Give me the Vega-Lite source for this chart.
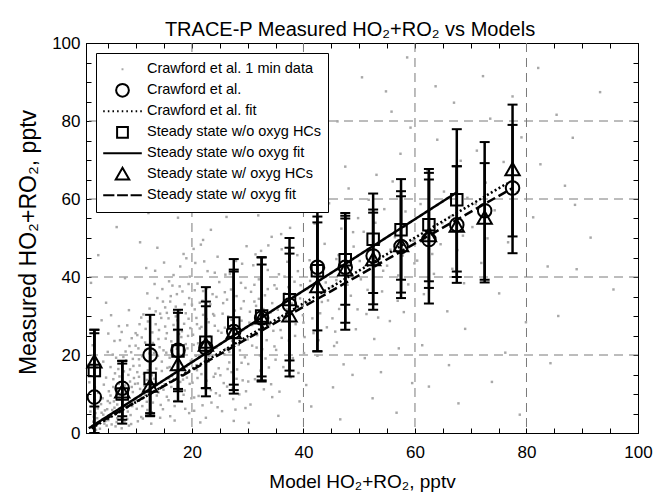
{
  "$schema": "https://vega.github.io/schema/vega-lite/v6.json",
  "width": 552,
  "height": 390,
  "autosize": {"type": "none"},
  "padding": {"left": 86, "top": 43, "right": 16, "bottom": 61},
  "title": {"text": "TRACE-P Measured HO₂+RO₂ vs Models", "fontSize": 20, "font": "Liberation Sans", "fontWeight": "normal", "color": "black", "anchor": "middle", "offset": -6, "dx": -12},
  "config": {
    "view": {"stroke": "black", "strokeWidth": 1},
    "font": "Liberation Sans",
    "axis": {"labelFont": "Liberation Sans", "titleFont": "Liberation Sans", "labelColor": "black", "titleColor": "black", "domainColor": "black", "tickColor": "black", "titleFontWeight": "normal", "labelFontSize": 17, "labelFlush": false, "labelOverlap": false, "grid": false},
    "legend": {"orient": "top-left", "offset": 10, "strokeColor": "black", "fillColor": "white", "padding": 6, "symbolSize": 1490, "symbolStrokeWidth": 2, "clipHeight": 20.6, "rowPadding": 0, "labelFontSize": 14.5, "labelFont": "Liberation Sans", "labelColor": "black", "labelOffset": 4, "labelLimit": 400}
  },
  "datasets": {
    "dots": [
      {"x":2.1,"y":1.5},{"x":2.4,"y":4.2},{"x":2.8,"y":0.8},{"x":3.1,"y":6.3},{"x":3.3,"y":2.7},{"x":3.6,"y":9.1},{"x":3.9,"y":3.5},{"x":4.2,"y":12.4},{"x":4.4,"y":5.8},{"x":4.7,"y":1.9},{"x":4.9,"y":8.2},{"x":2.6,"y":11.7},{"x":3.4,"y":14.6},{"x":4.1,"y":18.3},{"x":2.2,"y":22.5},{"x":3.7,"y":7.4},{"x":4.5,"y":3.1},{"x":1.8,"y":5.5},{"x":1.6,"y":13},{"x":2.9,"y":16.8},
      {"x":5.2,"y":4.4},{"x":5.4,"y":9.6},{"x":5.6,"y":2.2},{"x":5.9,"y":13.8},{"x":6.1,"y":6.5},{"x":6.3,"y":11.2},{"x":6.6,"y":3.8},{"x":6.8,"y":16.4},{"x":7.0,"y":8.7},{"x":7.2,"y":5.3},{"x":7.5,"y":12.9},{"x":7.7,"y":19.5},{"x":7.9,"y":2.9},{"x":8.1,"y":10.4},{"x":8.3,"y":7.1},{"x":8.6,"y":14.9},{"x":8.8,"y":22.3},{"x":9.0,"y":4.6},{"x":9.2,"y":11.8},{"x":9.5,"y":17.2},{"x":9.7,"y":8.3},{"x":9.9,"y":25.6},{"x":5.8,"y":20.1},{"x":6.9,"y":27.4},{"x":7.4,"y":1.2},{"x":8.4,"y":3.6},{"x":9.3,"y":6.9},{"x":6.2,"y":15.3},{"x":7.1,"y":23.8},{"x":8.9,"y":13.2},{"x":5.3,"y":7.7},{"x":6.7,"y":9.9},{"x":7.8,"y":15.8},{"x":8.2,"y":18.6},{"x":9.6,"y":14.1},{"x":9.1,"y":20.7},{"x":5.5,"y":30.2},{"x":8.7,"y":31.5},{"x":6.4,"y":5.1},{"x":7.6,"y":6.2},
      {"x":10.1,"y":6.2},{"x":10.3,"y":12.7},{"x":10.5,"y":18.9},{"x":10.8,"y":9.1},{"x":11.0,"y":24.5},{"x":11.2,"y":3.7},{"x":11.4,"y":15.2},{"x":11.7,"y":21.3},{"x":11.9,"y":8.0},{"x":12.1,"y":28.6},{"x":12.3,"y":11.4},{"x":12.6,"y":17.7},{"x":12.8,"y":5.3},{"x":13.0,"y":23.1},{"x":13.2,"y":13.9},{"x":13.5,"y":31.2},{"x":13.7,"y":9.6},{"x":13.9,"y":19.8},{"x":14.1,"y":26.4},{"x":14.4,"y":7.2},{"x":14.6,"y":15.9},{"x":14.8,"y":33.7},{"x":10.6,"y":27.9},{"x":11.3,"y":30.4},{"x":12.0,"y":35.8},{"x":12.7,"y":2.4},{"x":13.3,"y":38.2},{"x":14.2,"y":22.0},{"x":14.9,"y":11.1},{"x":10.2,"y":15.6},{"x":11.5,"y":12.1},{"x":12.4,"y":20.4},{"x":13.6,"y":16.5},{"x":14.5,"y":29.5},{"x":10.9,"y":4.1},{"x":12.9,"y":25.8},{"x":11.8,"y":42.3},{"x":13.8,"y":47.5},{"x":14.3,"y":3.9},{"x":10.4,"y":21.7},
      {"x":15.1,"y":12.5},{"x":15.3,"y":24.2},{"x":15.5,"y":30.8},{"x":15.8,"y":8.4},{"x":16.0,"y":19.3},{"x":16.2,"y":35.1},{"x":16.4,"y":14.6},{"x":16.7,"y":27.7},{"x":16.9,"y":6.9},{"x":17.1,"y":32.4},{"x":17.3,"y":21.6},{"x":17.6,"y":11.3},{"x":17.8,"y":37.6},{"x":18.0,"y":17.9},{"x":18.2,"y":26.1},{"x":18.5,"y":9.8},{"x":18.7,"y":33.0},{"x":18.9,"y":22.8},{"x":19.1,"y":14.2},{"x":19.4,"y":29.3},{"x":19.6,"y":40.1},{"x":19.8,"y":18.5},{"x":15.6,"y":16.7},{"x":16.6,"y":22.1},{"x":17.4,"y":28.9},{"x":18.4,"y":13.7},{"x":19.3,"y":24.9},{"x":15.9,"y":38.9},{"x":17.9,"y":42.7},{"x":16.1,"y":4.3},{"x":18.8,"y":6.2},{"x":19.9,"y":8.9},{"x":15.4,"y":20.6},{"x":17.0,"y":16.1},{"x":18.6,"y":20.3},{"x":19.5,"y":34.6},{"x":16.8,"y":31.1},{"x":15.2,"y":27.3},{"x":17.7,"y":25.4},{"x":19.0,"y":44.8},
      {"x":20.1,"y":12.9},{"x":20.3,"y":22.6},{"x":20.5,"y":31.7},{"x":20.8,"y":17.4},{"x":21.0,"y":38.3},{"x":21.2,"y":9.5},{"x":21.4,"y":26.8},{"x":21.7,"y":15.1},{"x":21.9,"y":33.9},{"x":22.1,"y":20.7},{"x":22.3,"y":11.6},{"x":22.6,"y":29.2},{"x":22.8,"y":41.5},{"x":23.0,"y":18.3},{"x":23.2,"y":24.8},{"x":23.5,"y":7.8},{"x":23.7,"y":35.6},{"x":23.9,"y":14.4},{"x":24.1,"y":27.5},{"x":24.4,"y":21.9},{"x":24.6,"y":45.2},{"x":24.8,"y":16.6},{"x":20.4,"y":5.7},{"x":21.6,"y":48.3},{"x":22.5,"y":3.9},{"x":23.4,"y":52.1},{"x":24.3,"y":10.2},{"x":20.9,"y":27.9},{"x":22.0,"y":36.4},{"x":23.8,"y":30.5},{"x":24.9,"y":38.7},{"x":21.3,"y":19.6},{"x":22.9,"y":23.3},{"x":20.6,"y":43.6},
      {"x":25.1,"y":14.8},{"x":25.3,"y":25.7},{"x":25.6,"y":33.3},{"x":25.8,"y":20.2},{"x":26.0,"y":40.6},{"x":26.3,"y":11.9},{"x":26.5,"y":29.9},{"x":26.7,"y":18.1},{"x":27.0,"y":36.8},{"x":27.2,"y":23.6},{"x":27.4,"y":8.7},{"x":27.7,"y":31.4},{"x":27.9,"y":44.1},{"x":28.1,"y":16.3},{"x":28.4,"y":26.9},{"x":28.6,"y":21.2},{"x":28.8,"y":38.5},{"x":29.1,"y":13.5},{"x":29.3,"y":33.8},{"x":29.5,"y":19.4},{"x":29.8,"y":47.9},{"x":25.4,"y":5.6},{"x":26.2,"y":55.4},{"x":27.5,"y":3.1},{"x":28.3,"y":58.7},{"x":29.6,"y":6.4},{"x":26.9,"y":24.5},{"x":28.9,"y":28.8},{"x":25.9,"y":36.1},{"x":27.1,"y":15.6},
      {"x":30.1,"y":17.7},{"x":30.3,"y":28.3},{"x":30.6,"y":36.2},{"x":30.8,"y":22.4},{"x":31.0,"y":43.0},{"x":31.3,"y":13.8},{"x":31.5,"y":32.6},{"x":31.7,"y":25.1},{"x":32.0,"y":39.4},{"x":32.2,"y":19.9},{"x":32.4,"y":46.7},{"x":32.7,"y":29.7},{"x":32.9,"y":11.2},{"x":33.1,"y":35.3},{"x":33.4,"y":23.8},{"x":33.6,"y":41.8},{"x":33.8,"y":16.8},{"x":34.1,"y":30.9},{"x":34.3,"y":50.3},{"x":34.6,"y":26.2},{"x":34.8,"y":37.9},{"x":30.5,"y":7.3},{"x":31.9,"y":55.8},{"x":33.3,"y":62.4},{"x":34.4,"y":9.2},{"x":31.2,"y":33.7},{"x":32.6,"y":21.5},{"x":33.9,"y":27.6},
      {"x":35.1,"y":21.3},{"x":35.4,"y":31.6},{"x":35.6,"y":40.7},{"x":35.9,"y":26.4},{"x":36.1,"y":47.1},{"x":36.4,"y":16.9},{"x":36.6,"y":35.8},{"x":36.9,"y":29.1},{"x":37.1,"y":43.9},{"x":37.4,"y":23.7},{"x":37.6,"y":52.6},{"x":37.9,"y":33.2},{"x":38.1,"y":19.2},{"x":38.4,"y":38.8},{"x":38.6,"y":27.9},{"x":38.9,"y":45.6},{"x":39.1,"y":15.4},{"x":39.4,"y":34.5},{"x":39.6,"y":57.3},{"x":39.9,"y":30.2},{"x":35.7,"y":10.6},{"x":36.8,"y":63.5},{"x":38.2,"y":66.9},{"x":39.3,"y":8.1},{"x":37.3,"y":37.4},
      {"x":40.2,"y":24.6},{"x":40.7,"y":36.9},{"x":41.1,"y":44.3},{"x":41.6,"y":29.4},{"x":42.0,"y":53.7},{"x":42.5,"y":19.8},{"x":42.9,"y":40.2},{"x":43.3,"y":33.6},{"x":43.8,"y":48.5},{"x":44.2,"y":27.1},{"x":44.6,"y":58.9},{"x":45.1,"y":37.5},{"x":45.5,"y":22.3},{"x":45.9,"y":44.6},{"x":46.4,"y":31.8},{"x":46.8,"y":52.4},{"x":47.2,"y":17.6},{"x":47.7,"y":41.1},{"x":48.1,"y":62.7},{"x":48.5,"y":35.2},{"x":49.0,"y":47.8},{"x":49.4,"y":26.6},{"x":49.8,"y":55.1},{"x":40.5,"y":12.3},{"x":41.9,"y":70.4},{"x":43.6,"y":74.1},{"x":45.3,"y":11.7},{"x":47.5,"y":68.3},{"x":48.8,"y":14.9},{"x":44.0,"y":38.6},
      {"x":50.3,"y":39.4},{"x":50.8,"y":51.6},{"x":51.3,"y":30.5},{"x":51.7,"y":59.8},{"x":52.2,"y":44.8},{"x":52.7,"y":24.1},{"x":53.1,"y":66.2},{"x":53.6,"y":48.7},{"x":54.1,"y":36.3},{"x":54.5,"y":57.4},{"x":55.0,"y":42.9},{"x":55.5,"y":28.7},{"x":56.0,"y":64.5},{"x":56.4,"y":50.2},{"x":56.9,"y":33.9},{"x":57.4,"y":71.6},{"x":57.8,"y":45.5},{"x":58.3,"y":56.8},{"x":58.8,"y":38.1},{"x":59.2,"y":78.3},{"x":59.7,"y":49.3},{"x":51.0,"y":19.2},{"x":53.9,"y":15.6},{"x":55.8,"y":82.4},{"x":57.1,"y":21.7},{"x":59.5,"y":12.8},
      {"x":60.4,"y":44.2},{"x":61.0,"y":58.7},{"x":61.6,"y":35.6},{"x":62.2,"y":67.3},{"x":62.8,"y":52.1},{"x":63.4,"y":40.8},{"x":64.0,"y":75.2},{"x":64.6,"y":48.4},{"x":65.2,"y":61.9},{"x":65.8,"y":31.2},{"x":66.4,"y":55.6},{"x":67.0,"y":84.7},{"x":67.6,"y":46.9},{"x":68.2,"y":69.8},{"x":68.8,"y":38.4},{"x":69.4,"y":60.3},{"x":61.3,"y":22.5},{"x":63.7,"y":88.9},{"x":66.1,"y":17.4},{"x":69.0,"y":26.7},
      {"x":70.3,"y":52.8},{"x":71.1,"y":72.4},{"x":71.9,"y":43.6},{"x":72.7,"y":64.2},{"x":73.5,"y":80.6},{"x":74.3,"y":57.1},{"x":75.1,"y":35.8},{"x":75.9,"y":69.5},{"x":76.7,"y":48.9},{"x":77.5,"y":86.3},{"x":78.3,"y":61.7},{"x":79.1,"y":75.8},{"x":79.9,"y":28.4},{"x":72.2,"y":91.5},{"x":76.2,"y":20.6},
      {"x":81.2,"y":55.3},{"x":82.5,"y":68.9},{"x":83.8,"y":42.7},{"x":85.4,"y":81.6},{"x":85.7,"y":30.0},{"x":86.9,"y":63.4},{"x":88.3,"y":75.7},{"x":88.7,"y":58.5},{"x":89.0,"y":42.0},{"x":91.5,"y":50.1},{"x":93.2,"y":87.4},{"x":95.6,"y":36.8},{"x":82.1,"y":93.6},{"x":84.3,"y":17.9},
      {"x":1.9,"y":38.5},{"x":3.2,"y":45.6},{"x":4.6,"y":33.4},{"x":6.5,"y":52.8},{"x":8.0,"y":39.7},{"x":9.4,"y":61.2},{"x":10.7,"y":48.9},{"x":12.2,"y":56.4},{"x":13.1,"y":71.3},{"x":15.7,"y":63.8},{"x":17.5,"y":55.2},{"x":19.2,"y":77.4},{"x":21.8,"y":68.7},{"x":23.6,"y":84.1},{"x":26.6,"y":72.5},{"x":28.7,"y":65.9},{"x":30.9,"y":81.3},{"x":33.0,"y":92.8},{"x":35.3,"y":76.6},{"x":37.8,"y":88.2},{"x":40.9,"y":83.5},{"x":43.1,"y":95.4},{"x":46.1,"y":79.9},{"x":50.5,"y":91.2},{"x":54.8,"y":87.6},{"x":58.6,"y":96.3},
      {"x":30.2,"y":2.6},{"x":35.5,"y":4.4},{"x":41.4,"y":6.8},{"x":46.6,"y":3.5},{"x":52.4,"y":8.9},{"x":56.7,"y":5.2},{"x":62.5,"y":11.9},{"x":67.8,"y":7.6},{"x":73.8,"y":13.1},{"x":78.8,"y":4.7},
      {"x":2.3,"y":2.9},{"x":2.7,"y":5.1},{"x":3.0,"y":3.8},{"x":3.5,"y":1.1},{"x":3.8,"y":5.2},{"x":4.0,"y":8.9},{"x":4.3,"y":2.4},{"x":4.8,"y":6.1},{"x":5.0,"y":3.3},{"x":5.1,"y":10.7},{"x":5.7,"y":5.9},{"x":6.0,"y":8.1},{"x":6.5,"y":2.8},{"x":6.6,"y":7.3},{"x":7.3,"y":3.9},{"x":7.3,"y":10.1},{"x":7.9,"y":6.8},{"x":8.0,"y":12.2},{"x":8.5,"y":5.5},{"x":8.5,"y":9.3},{"x":9.1,"y":2.3},{"x":9.4,"y":10.5},{"x":9.8,"y":12.6},{"x":10.0,"y":8.7},{"x":10.3,"y":3.0},{"x":10.7,"y":11.3},{"x":11.1,"y":6.9},{"x":11.6,"y":9.8},{"x":11.9,"y":13.6},{"x":12.2,"y":4.6},{"x":12.5,"y":8.4},{"x":12.8,"y":14.8},{"x":3.2,"y":10.3},{"x":4.6,"y":14.2},{"x":5.4,"y":16.9},{"x":6.4,"y":19.3},{"x":7.0,"y":14.5},{"x":7.6,"y":17.9},{"x":8.1,"y":20.9},{"x":8.9,"y":16.3},{"x":9.4,"y":19.0},{"x":9.9,"y":22.4},{"x":10.6,"y":17.3},{"x":11.1,"y":19.7},{"x":11.6,"y":23.2},{"x":12.1,"y":16.1},{"x":2.6,"y":8.4},{"x":5.9,"y":11.8},{"x":6.9,"y":12.6},{"x":9.0,"y":7.6},{"x":10.5,"y":14.4},{"x":11.3,"y":10.9},{"x":4.1,"y":4.7},{"x":6.3,"y":1.7},{"x":7.7,"y":4.3},{"x":8.7,"y":1.9},{"x":3.5,"y":17.4},{"x":4.9,"y":20.8},{"x":6.1,"y":23.6},{"x":7.4,"y":25.9},{"x":8.4,"y":27.6},{"x":9.2,"y":24.3},{"x":10.2,"y":25.1},{"x":10.9,"y":29.6},{"x":11.7,"y":26.7},{"x":12.4,"y":31.9},{"x":5.0,"y":25.5},{"x":3.8,"y":28.9},
      {"x":13.2,"y":20.5},{"x":13.5,"y":27.9},{"x":13.8,"y":34.6},{"x":14.0,"y":24.1},{"x":14.3,"y":30.6},{"x":14.7,"y":36.9},{"x":14.9,"y":21.2},{"x":15.2,"y":32.2},{"x":15.5,"y":25.6},{"x":15.8,"y":29.4},{"x":16.1,"y":33.7},{"x":16.3,"y":23.5},{"x":16.5,"y":37.8},{"x":16.8,"y":26.4},{"x":17.1,"y":29.9},{"x":17.3,"y":35.6},{"x":17.6,"y":20.1},{"x":17.8,"y":31.3},{"x":18.1,"y":24.6},{"x":18.3,"y":36.3},{"x":18.6,"y":28.0},{"x":18.9,"y":30.7},{"x":19.2,"y":21.7},{"x":19.4,"y":38.2},{"x":19.7,"y":26.9},{"x":20.0,"y":32.9},{"x":20.2,"y":25.2},{"x":20.5,"y":36.6},{"x":20.8,"y":29.5},{"x":21.1,"y":23.0},{"x":21.4,"y":33.4},{"x":21.7,"y":27.2},{"x":22.0,"y":30.3},{"x":22.3,"y":24.1},{"x":22.7,"y":37.1},{"x":23.0,"y":28.4},{"x":23.3,"y":33.0},{"x":23.6,"y":22.0},{"x":24.0,"y":30.1},{"x":24.4,"y":34.9},{"x":24.7,"y":26.2},{"x":13.4,"y":41.6},{"x":15.0,"y":43.7},{"x":16.7,"y":40.5},{"x":18.5,"y":45.9},{"x":20.3,"y":47.2},{"x":22.2,"y":44.0},{"x":14.6,"y":18.3},{"x":16.0,"y":16.9},{"x":17.5,"y":15.3},{"x":19.0,"y":17.0},{"x":20.7,"y":19.8},{"x":22.5,"y":17.8},
      {"x":12.0,"y":5.9},{"x":13.0,"y":7.8},{"x":14.0,"y":10.4},{"x":14.8,"y":6.1},{"x":15.5,"y":9.3},{"x":16.3,"y":11.8},{"x":17.0,"y":8.2},{"x":17.9,"y":13.1},{"x":18.7,"y":10.9},{"x":19.6,"y":12.6},{"x":20.4,"y":9.1},{"x":21.0,"y":14.1},{"x":21.9,"y":7.1},{"x":22.6,"y":13.4},{"x":23.4,"y":11.0},{"x":24.2,"y":15.2},{"x":25.0,"y":9.6},{"x":25.7,"y":12.8},{"x":26.4,"y":16.4},{"x":27.3,"y":11.4},{"x":28.0,"y":13.9},{"x":28.9,"y":18.0},{"x":29.7,"y":10.7},{"x":13.6,"y":12.9},{"x":15.9,"y":14.0},{"x":18.2,"y":8.0},{"x":20.9,"y":16.1},{"x":23.1,"y":19.7},{"x":26.0,"y":21.5},{"x":28.5,"y":9.9},{"x":16.9,"y":3.2},{"x":19.5,"y":5.1},{"x":24.6,"y":6.6},{"x":21.5,"y":2.7},{"x":27.8,"y":6.0},
      {"x":25.2,"y":22.9},{"x":25.5,"y":30.6},{"x":25.9,"y":27.0},{"x":26.3,"y":34.2},{"x":26.7,"y":20.8},{"x":27.1,"y":29.0},{"x":27.6,"y":25.3},{"x":28.0,"y":35.1},{"x":28.4,"y":22.6},{"x":28.8,"y":31.9},{"x":29.2,"y":26.4},{"x":29.6,"y":37.2},{"x":30.0,"y":24.0},{"x":30.4,"y":31.1},{"x":30.8,"y":27.7},{"x":31.2,"y":38.0},{"x":31.6,"y":21.9},{"x":32.0,"y":34.4},{"x":32.4,"y":26.0},{"x":32.8,"y":31.8},{"x":33.2,"y":19.1},{"x":33.6,"y":36.9},{"x":34.0,"y":28.5},{"x":34.4,"y":33.3},{"x":34.8,"y":22.2},{"x":35.2,"y":37.0},{"x":35.7,"y":29.6},{"x":36.1,"y":24.4},{"x":36.6,"y":40.1},{"x":37.0,"y":31.7},{"x":37.5,"y":27.0},{"x":38.0,"y":35.5},{"x":38.5,"y":24.9},{"x":39.0,"y":41.5},{"x":39.5,"y":37.9},{"x":40.0,"y":28.3},{"x":40.6,"y":33.4},{"x":41.2,"y":39.0},{"x":41.8,"y":25.6},{"x":42.4,"y":35.9},{"x":43.0,"y":30.7},{"x":43.7,"y":42.3},{"x":44.4,"y":34.0},{"x":45.2,"y":29.4},{"x":45.9,"y":39.2},{"x":26.8,"y":40.8},{"x":29.0,"y":43.4},{"x":31.4,"y":45.8},{"x":33.7,"y":48.1},{"x":36.0,"y":51.0},{"x":24.1,"y":41.1},{"x":22.0,"y":49.5},{"x":30.1,"y":13.2},{"x":32.3,"y":16.0},{"x":35.0,"y":18.8},{"x":37.7,"y":14.3},{"x":40.1,"y":20.5},{"x":42.7,"y":23.8},{"x":45.7,"y":26.0},{"x":34.2,"y":12.5},
      {"x":46.3,"y":45.6},{"x":47.9,"y":38.0},{"x":48.9,"y":51.5},{"x":50.1,"y":44.1},{"x":51.5,"y":36.7},{"x":52.9,"y":53.9},{"x":54.3,"y":41.6},{"x":55.6,"y":47.0},{"x":57.0,"y":40.4},{"x":58.1,"y":52.9},{"x":59.9,"y":43.5},{"x":61.8,"y":49.7},{"x":63.1,"y":45.9},{"x":64.9,"y":53.8},{"x":66.7,"y":42.1},{"x":68.6,"y":50.6},{"x":70.9,"y":58.7},{"x":73.0,"y":49.9},{"x":46.0,"y":23.2},{"x":49.7,"y":31.7},{"x":53.4,"y":29.6},{"x":58.0,"y":31.0}
    ],
    "pts": [
      {"series":"Crawford et al.","x":2.5,"y":9.2,"lo":0,"hi":25.6},
      {"series":"Crawford et al.","x":7.5,"y":11.5,"lo":2.4,"hi":18.5},
      {"series":"Crawford et al.","x":12.5,"y":20.0,"lo":4.3,"hi":30.3},
      {"series":"Crawford et al.","x":17.5,"y":21.2,"lo":8.1,"hi":31.6},
      {"series":"Crawford et al.","x":22.5,"y":21.8,"lo":9.4,"hi":37.4},
      {"series":"Crawford et al.","x":27.5,"y":26.0,"lo":10.1,"hi":44.6},
      {"series":"Crawford et al.","x":32.5,"y":29.5,"lo":13.2,"hi":45.1},
      {"series":"Crawford et al.","x":37.5,"y":32.8,"lo":14.5,"hi":50.0},
      {"series":"Crawford et al.","x":42.5,"y":42.5,"lo":20.9,"hi":57.1},
      {"series":"Crawford et al.","x":47.5,"y":42.5,"lo":26.5,"hi":56.4},
      {"series":"Crawford et al.","x":52.5,"y":45.4,"lo":31.6,"hi":61.4},
      {"series":"Crawford et al.","x":57.5,"y":47.8,"lo":34.6,"hi":65.1},
      {"series":"Crawford et al.","x":62.5,"y":49.6,"lo":33.2,"hi":67.7},
      {"series":"Crawford et al.","x":67.5,"y":53.4,"lo":38.5,"hi":77.9},
      {"series":"Crawford et al.","x":72.5,"y":57.0,"lo":39.3,"hi":74.6},
      {"series":"Crawford et al.","x":77.5,"y":62.8,"lo":46.1,"hi":79.0},
      {"series":"Steady state w/o oxyg HCs","x":2.5,"y":16.0,"lo":6.8,"hi":26.5},
      {"series":"Steady state w/o oxyg HCs","x":7.5,"y":10.0,"lo":4.3,"hi":17.8},
      {"series":"Steady state w/o oxyg HCs","x":12.5,"y":14.0,"lo":5.1,"hi":22.6},
      {"series":"Steady state w/o oxyg HCs","x":17.5,"y":21.0,"lo":10.7,"hi":30.8},
      {"series":"Steady state w/o oxyg HCs","x":22.5,"y":23.3,"lo":11.5,"hi":33.7},
      {"series":"Steady state w/o oxyg HCs","x":27.5,"y":28.2,"lo":12.4,"hi":41.9},
      {"series":"Steady state w/o oxyg HCs","x":32.5,"y":30.0,"lo":14.5,"hi":43.2},
      {"series":"Steady state w/o oxyg HCs","x":37.5,"y":34.2,"lo":18.6,"hi":47.5},
      {"series":"Steady state w/o oxyg HCs","x":42.5,"y":41.6,"lo":26.3,"hi":55.5},
      {"series":"Steady state w/o oxyg HCs","x":47.5,"y":44.4,"lo":32.9,"hi":55.7},
      {"series":"Steady state w/o oxyg HCs","x":52.5,"y":49.7,"lo":35.9,"hi":57.3},
      {"series":"Steady state w/o oxyg HCs","x":57.5,"y":52.1,"lo":39.3,"hi":60.7},
      {"series":"Steady state w/o oxyg HCs","x":62.5,"y":53.4,"lo":38.9,"hi":66.7},
      {"series":"Steady state w/o oxyg HCs","x":67.5,"y":59.8,"lo":41.4,"hi":68.4},
      {"series":"Steady state w/ oxyg HCs","x":2.5,"y":18.2,"lo":0,"hi":26.5},
      {"series":"Steady state w/ oxyg HCs","x":7.5,"y":10.5,"lo":3.4,"hi":18.5},
      {"series":"Steady state w/ oxyg HCs","x":12.5,"y":12.0,"lo":4.5,"hi":22.6},
      {"series":"Steady state w/ oxyg HCs","x":17.5,"y":17.5,"lo":11.3,"hi":26.5},
      {"series":"Steady state w/ oxyg HCs","x":22.5,"y":22.5,"lo":11.5,"hi":32.5},
      {"series":"Steady state w/ oxyg HCs","x":27.5,"y":25.7,"lo":11.0,"hi":41.4},
      {"series":"Steady state w/ oxyg HCs","x":32.5,"y":29.5,"lo":13.5,"hi":45.0},
      {"series":"Steady state w/ oxyg HCs","x":37.5,"y":30.0,"lo":16.0,"hi":46.0},
      {"series":"Steady state w/ oxyg HCs","x":42.5,"y":37.5,"lo":21.0,"hi":54.0},
      {"series":"Steady state w/ oxyg HCs","x":47.5,"y":41.8,"lo":28.3,"hi":55.0},
      {"series":"Steady state w/ oxyg HCs","x":52.5,"y":44.4,"lo":33.0,"hi":56.5},
      {"series":"Steady state w/ oxyg HCs","x":57.5,"y":48.0,"lo":36.0,"hi":62.0},
      {"series":"Steady state w/ oxyg HCs","x":62.5,"y":50.6,"lo":37.2,"hi":65.0},
      {"series":"Steady state w/ oxyg HCs","x":67.5,"y":53.0,"lo":40.0,"hi":68.4},
      {"series":"Steady state w/ oxyg HCs","x":72.5,"y":55.1,"lo":38.6,"hi":69.2},
      {"series":"Steady state w/ oxyg HCs","x":77.5,"y":67.5,"lo":50.4,"hi":84.2}
    ],
    "fits": [
      {"fit":"Crawford et al. fit","x":2.0,"y":1.2},
      {"fit":"Crawford et al. fit","x":76.5,"y":64.0},
      {"fit":"Steady state w/o oxyg fit","x":1.5,"y":1.2},
      {"fit":"Steady state w/o oxyg fit","x":67.5,"y":61.7},
      {"fit":"Steady state w/ oxyg fit","x":2.0,"y":1.5},
      {"fit":"Steady state w/ oxyg fit","x":77.5,"y":62.8}
    ],
    "grid": [{"g":20},{"g":40},{"g":60},{"g":80}]
  },
  "layer": [
    {
      "data": {"name": "grid"},
      "mark": {"type": "rule", "color": "#7a7a7a", "strokeWidth": 1, "strokeDash": [9, 6]},
      "encoding": {
        "x": {"field": "g", "type": "quantitative", "scale": {"domain": [1, 100], "nice": false, "zero": false},
              "axis": {"orient": "top", "values": [5,10,15,20,25,30,35,40,45,50,55,60,65,70,75,80,85,90,95,100], "labels": false, "tickSize": -5, "title": null, "domain": true}}
      }
    },
    {
      "data": {"name": "grid"},
      "mark": {"type": "rule", "color": "#7a7a7a", "strokeWidth": 1, "strokeDash": [9, 6]},
      "encoding": {
        "y": {"field": "g", "type": "quantitative", "scale": {"domain": [0, 100], "nice": false},
              "axis": {"orient": "right", "values": [0,5,10,15,20,25,30,35,40,45,50,55,60,65,70,75,80,85,90,95,100], "labels": false, "tickSize": -5, "title": null, "domain": true}}
      }
    },
    {
      "data": {"name": "dots"},
      "mark": {"type": "square", "size": 6, "color": "#a8a8a8", "opacity": 1},
      "encoding": {
        "x": {"field": "x", "type": "quantitative",
              "axis": {"orient": "bottom", "values": [5,10,15,20,25,30,35,40,45,50,55,60,65,70,75,80,85,90,95,100], "labelExpr": "datum.value % 20 === 0 ? datum.label : ''", "tickSize": -5, "labelPadding": 16, "title": "Model HO₂+RO₂, pptv", "titleFontSize": 19, "titlePadding": 12}},
        "y": {"field": "y", "type": "quantitative",
              "axis": {"orient": "left", "values": [0,5,10,15,20,25,30,35,40,45,50,55,60,65,70,75,80,85,90,95,100], "labelExpr": "datum.value % 20 === 0 ? datum.label : ''", "tickSize": -5, "labelPadding": 11, "title": "Measured HO₂+RO₂, pptv", "titleFontSize": 23, "titlePadding": 11, "titleY": 199}}
      }
    },
    {
      "data": {"name": "pts"},
      "mark": {"type": "rule", "color": "black", "strokeWidth": 2.5},
      "encoding": {
        "x": {"field": "x", "type": "quantitative", "axis": null},
        "y": {"field": "lo", "type": "quantitative", "axis": null},
        "y2": {"field": "hi"}
      }
    },
    {
      "data": {"name": "pts"},
      "mark": {"type": "tick", "orient": "horizontal", "color": "black", "size": 10, "thickness": 2, "opacity": 1},
      "encoding": {
        "x": {"field": "x", "type": "quantitative", "axis": null},
        "y": {"field": "lo", "type": "quantitative", "axis": null}
      }
    },
    {
      "data": {"name": "pts"},
      "mark": {"type": "tick", "orient": "horizontal", "color": "black", "size": 10, "thickness": 2, "opacity": 1},
      "encoding": {
        "x": {"field": "x", "type": "quantitative", "axis": null},
        "y": {"field": "hi", "type": "quantitative", "axis": null}
      }
    },
    {
      "data": {"name": "fits"},
      "mark": {"type": "line", "color": "black", "strokeWidth": 2.5},
      "encoding": {
        "x": {"field": "x", "type": "quantitative", "axis": null},
        "y": {"field": "y", "type": "quantitative", "axis": null},
        "detail": {"field": "fit"},
        "strokeDash": {"field": "fit", "type": "nominal", "legend": null,
          "scale": {"domain": ["Crawford et al. fit", "Steady state w/o oxyg fit", "Steady state w/ oxyg fit"], "range": [[2, 2.5], [1, 0], [9, 4]]}}
      }
    },
    {
      "data": {"name": "pts"},
      "mark": {"type": "point", "size": 1680, "strokeWidth": 2, "opacity": 1, "filled": false},
      "encoding": {
        "x": {"field": "x", "type": "quantitative", "axis": null},
        "y": {"field": "y", "type": "quantitative", "axis": null},
        "shape": {"field": "series", "type": "nominal",
          "scale": {"domain": ["Crawford et al. 1 min data", "Crawford et al.", "Crawford et al. fit", "Steady state w/o oxyg HCs", "Steady state w/o oxyg fit", "Steady state w/ oxyg HCs", "Steady state w/ oxyg fit"],
                    "range": ["M-0.05,-0.05H0.05V0.05H-0.05Z", "M0.33,0A0.33,0.33,0,1,1,-0.33,0A0.33,0.33,0,1,1,0.33,0Z", "M-1,0H-0.92M-0.76,0H-0.68M-0.52,0H-0.44M-0.28,0H-0.2M-0.04,0H0.04M0.2,0H0.28M0.44,0H0.52M0.68,0H0.76M0.92,0H1", "M-0.28,-0.28H0.28V0.28H-0.28Z", "M-1,0H1", "M0,-0.34L0.35,0.27H-0.35Z", "M-1,0H-0.42M-0.28,0H0.28M0.42,0H1"]},
          "legend": {"title": null}},
        "fill": {"field": "series", "type": "nominal",
          "scale": {"domain": ["Crawford et al. 1 min data", "Crawford et al.", "Crawford et al. fit", "Steady state w/o oxyg HCs", "Steady state w/o oxyg fit", "Steady state w/ oxyg HCs", "Steady state w/ oxyg fit"],
                    "range": ["#a8a8a8", "transparent", "transparent", "transparent", "transparent", "transparent", "transparent"]},
          "legend": {"title": null}},
        "stroke": {"field": "series", "type": "nominal",
          "scale": {"domain": ["Crawford et al. 1 min data", "Crawford et al.", "Crawford et al. fit", "Steady state w/o oxyg HCs", "Steady state w/o oxyg fit", "Steady state w/ oxyg HCs", "Steady state w/ oxyg fit"],
                    "range": ["transparent", "black", "black", "black", "black", "black", "black"]},
          "legend": {"title": null}}
      }
    }
  ],
  "resolve": {"axis": {"x": "independent", "y": "independent"}}
}
